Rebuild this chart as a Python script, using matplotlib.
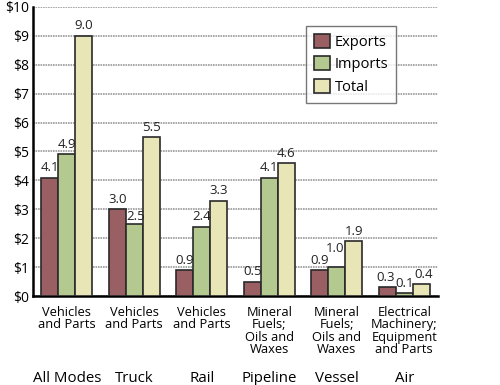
import numpy as np
import matplotlib.pyplot as plt

modes = ['All Modes', 'Truck', 'Rail', 'Pipeline', 'Vessel', 'Air']
commodities = ['Vehicles\nand Parts', 'Vehicles\nand Parts', 'Vehicles\nand Parts',
               'Mineral\nFuels;\nOils and\nWaxes', 'Mineral\nFuels;\nOils and\nWaxes',
               'Electrical\nMachinery;\nEquipment\nand Parts']
exports = [4.1, 3.0, 0.9, 0.5, 0.9, 0.3]
imports = [4.9, 2.5, 2.4, 4.1, 1.0, 0.1]
total = [9.0, 5.5, 3.3, 4.6, 1.9, 0.4]
yticks = [0, 1, 2, 3, 4, 5, 6, 7, 8, 9, 10]

plt.rcParams['font.family'] = ['Open Sans', 'DejaVu Sans']

fig = plt.figure(figsize=(5, 3.85), dpi=100)
ax = fig.add_axes([0.066, 0.231, 0.81, 0.751])

x = np.arange(len(modes))
w = 0.25
series = [('Exports', exports, '#9a5f63'),
          ('Imports', imports, '#b4c98f'),
          ('Total', total, '#e8e5b6')]
# small nudges for crowded value labels (series index, group index): (dx, dy)
nudge = {(1, 4): (-0.02, 0.3), (0, 5): (-0.03, 0), (2, 5): (0.03, 0),
         (1, 1): (0.02, -0.1)}
for i, (name, vals, col) in enumerate(series):
    xs = x + (i - 1) * w
    ax.bar(xs, vals, width=w, color=col, edgecolor='#2a2a2a', linewidth=1.2,
           label=name, zorder=3)
    for j, (xi, v) in enumerate(zip(xs, vals)):
        dx, dy = nudge.get((i, j), (0, 0))
        ax.text(xi + dx, v + 0.12 + dy, f'{v:.1f}', ha='center', va='bottom',
                fontsize=9.5, color='#222222', zorder=4)

ax.set_xlim(-0.5, 5.5)
ax.set_ylim(0, 10)
ax.set_yticks(yticks)
ax.set_yticklabels([f'${t}' for t in yticks], fontsize=10)
ax.set_xticks([])
ax.tick_params(axis='y', length=0, pad=3)
ax.yaxis.grid(True, color='#9a9a9a', linewidth=1.2, linestyle=(0, (1, 0.5)), zorder=0)
for s in ['top', 'right']:
    ax.spines[s].set_visible(False)
ax.spines['left'].set_linewidth(1.8)
ax.spines['bottom'].set_linewidth(1.8)

for xi, com, mode in zip(x, commodities, modes):
    ax.text(xi, -0.35, com, ha='center', va='top', fontsize=9.3,
            linespacing=0.92, transform=ax.transData)
    ax.text(xi, -2.6, mode, ha='center', va='top', fontsize=10.8,
            transform=ax.transData)

leg = ax.legend(loc='upper left', bbox_to_anchor=(0.655, 0.96), fontsize=10.5,
                frameon=True, fancybox=False, edgecolor='#555555',
                handlelength=1.1, handleheight=1.1, handletextpad=0.35,
                borderpad=0.55, labelspacing=0.45)
leg.get_frame().set_linewidth(1.0)

fig.savefig('out.png', dpi=100)
